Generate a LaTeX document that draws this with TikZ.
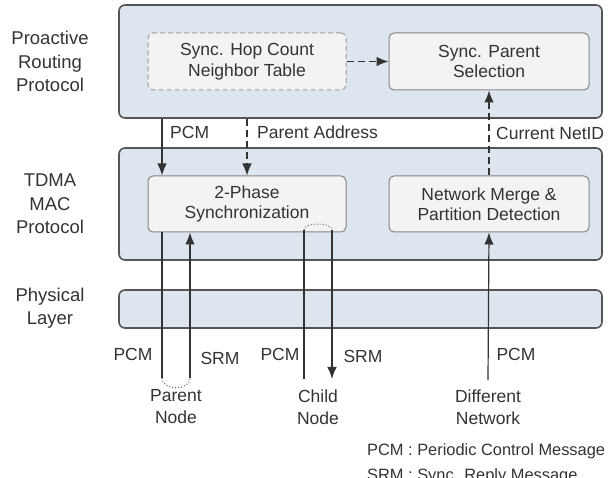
\documentclass[tikz,border=0pt]{standalone}
\usepackage{fontspec}
\setmainfont{Liberation Sans}
\usepackage{tikz}
\usetikzlibrary{arrows.meta}
\usetikzlibrary{positioning}

\definecolor{layerfill}{HTML}{DDE5EE}
\definecolor{layerline}{HTML}{555555}
\definecolor{blockfill}{HTML}{F3F3F3}
\definecolor{blockline}{HTML}{858585}
\definecolor{ink}{HTML}{333333}

\begin{document}
\begin{tikzpicture}[x=1pt, y=-1pt,
    stack/.style={rectangle, draw=layerline, line width=1.6pt, rounded corners=6pt,
    fill=layerfill, minimum width=483pt},
    block/.style={rectangle, draw=blockline, line width=1pt, rounded corners=5pt,
    fill=blockfill, text=ink, align=center, minimum width=198pt, minimum height=57pt,
    font=\fontsize{17.5}{20.5}\selectfont},
    sidelbl/.style={text=ink, align=center, font=\fontsize{18.5}{23.5}\selectfont},
    endlbl/.style={text=ink, align=center, font=\fontsize{17.5}{22}\selectfont},
    tag/.style={text=ink, inner sep=2pt, font=\fontsize{17.5}{21}\selectfont},
    flow/.style={draw=ink, line width=1.2pt},
    arr/.style={flow, -{Latex[length=12pt,width=9.5pt]}},
    dashline/.style={dash pattern=on 7pt off 4pt},
    retloop/.style={draw=ink!75, line width=1pt, dotted}]
    \useasboundingbox (0,0) rectangle (611,478);

    \node (routing) [stack, minimum height=113pt] at (360.5,61.5) {};
    \node (mac) [stack, minimum height=112pt] at (360.5,204) {};
    \node (phy) [stack, minimum height=38pt] at (360.5,309) {};

    \coordinate (sidecol) at (50,0);
    \node (routinglbl) [sidelbl] at (routing -| sidecol) {Proactive\\Routing\\Protocol};
    \node (maclbl) [sidelbl] at (mac -| sidecol) {TDMA\\MAC\\Protocol};
    \node (phylbl) [sidelbl] at ([yshift=1pt]phy -| sidecol) {Physical\\Layer};

    \node (hoptable) [block, draw=blockline!80, dash pattern=on 5pt off 3pt] at (247,61.5)
    {Sync. Hop Count\\Neighbor Table};
    \node (parentsel) [block, minimum width=200pt, right=42pt of hoptable] {Sync. Parent\\Selection};
    \node (twophase) [block, minimum height=56pt] at (247,204) {2-Phase\\Synchronization};
    \node (merge) [block, minimum width=200pt, minimum height=56pt, right=42pt of twophase]
    {Network Merge \&\\Partition Detection};

    \coordinate (pcmx) at (162,0);
    \coordinate (srmx) at (190,0);
    \coordinate (childl) at (304,230);
    \coordinate (childr) at (332,230);
    \coordinate (parentend) at (176,378);
    \coordinate (childend) at (318,379);
    \coordinate (diffend) at (488,380);

    \draw [arr, dashline] (hoptable) -- (parentsel);
    \draw [arr] (routing.south -| pcmx) -- (twophase.north -| pcmx);
    \draw [arr, dashline] (routing.south -| twophase.north) -- (twophase.north);
    \draw [arr, dashline] (merge.north) -- (parentsel.south);

    \node (pcmtag) [tag, anchor=west] at (168,132) {PCM};
    \node (addrtag) [tag, anchor=west] at (255,132) {Parent Address};
    \node (netidtag) [tag, anchor=west] at (494,133) {Current NetID};

    % parent node loop
    \draw [flow] (twophase.south -| pcmx) -- (parentend -| pcmx);
    \draw [retloop] (parentend -| pcmx) .. controls +(0,13) and +(0,13) .. (parentend -| srmx);
    \draw [arr] (parentend -| srmx) -- (twophase.south -| srmx);

    % child node loop
    \draw [flow] (childend -| childl) -- (childl);
    \draw [retloop] (childl) .. controls +(0,-8) and +(0,-8) .. (childr);
    \draw [arr] (childr) -- (childend -| childr);

    \draw [arr] (diffend) -- (merge.south);

    \node (pcmparent) [tag] at (133,354) {PCM};
    \node (srmparent) [tag] at (220,358) {SRM};
    \node (pcmchild) [tag] at (280,354) {PCM};
    \node (srmchild) [tag] at (363,356) {SRM};
    \node (pcmdiff) [tag] at (516,354) {PCM};

    \node (parentnode) [endlbl, below=8pt of parentend] {Parent\\Node};
    \node (childnode) [endlbl, below=7pt of childend] {Child\\Node};
    \node (diffnode) [endlbl, below=6pt of diffend] {Different\\Network};

    \node (legend) [text=ink, align=left, inner sep=0pt, anchor=base west,
    font=\fontsize{16.4}{25}\selectfont] at (367,481)
    {PCM : Periodic Control Message\\SRM : Sync. Reply Message};
\end{tikzpicture}
\end{document}
